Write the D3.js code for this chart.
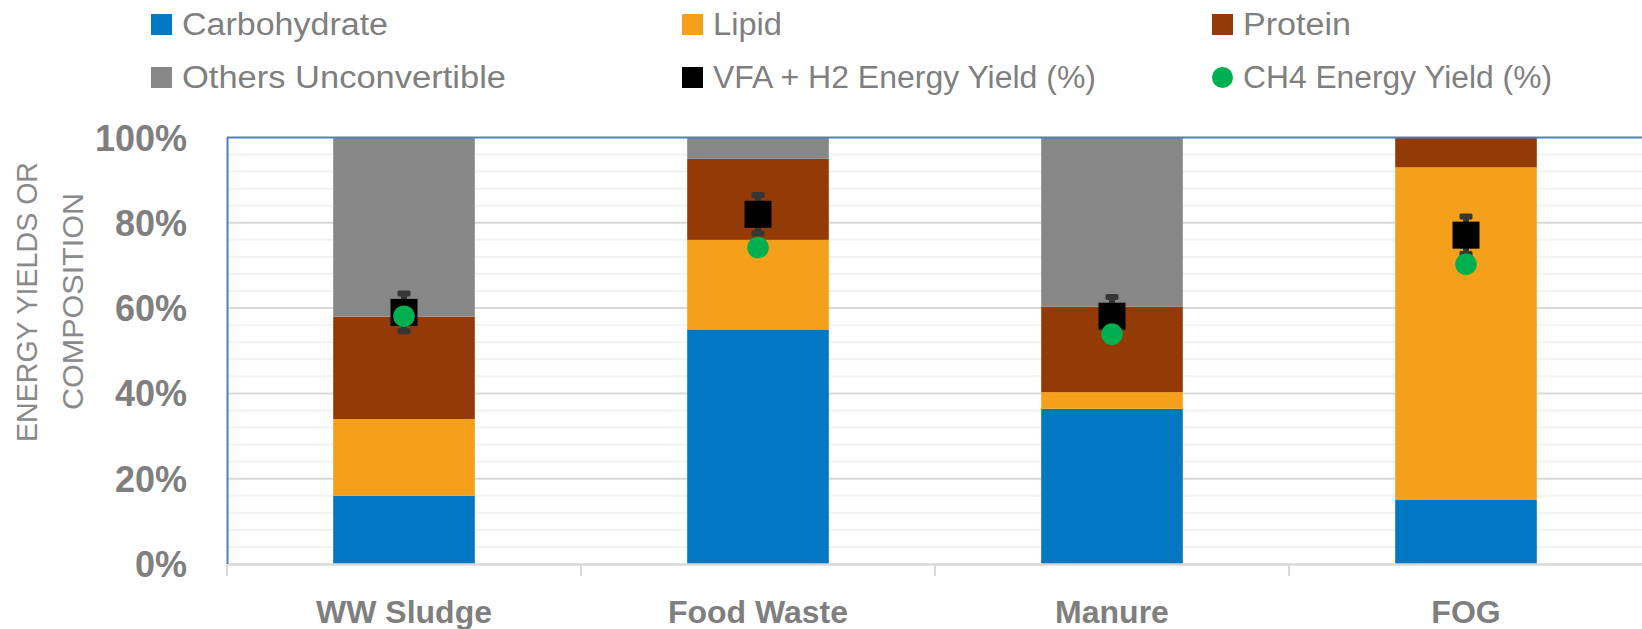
<!DOCTYPE html>
<html>
<head>
<meta charset="utf-8">
<script src="https://cdn.jsdelivr.net/npm/d3@7"></script>
<style>
  html, body { margin: 0; padding: 0; background: #ffffff; }
  svg { display: block; }
</style>
</head>
<body>
<svg id="chart" width="1642" height="629"></svg>
<script>
// ---------------- DATA ----------------
const categories = ["WW Sludge", "Food Waste", "Manure", "FOG"];
const carbohydrate = [16, 55, 36.4, 15];
const lipid = [18, 21, 3.9, 78];
const protein = [24, 19, 20, 7];
const othersUnconvertible = [42, 5, 39.7, 0];
const vfaH2Yield = [59, 82, 58.1, 77.1];
const vfaH2Error = [4.4, 4.5, 4.5, 4.4];
const ch4Yield = [58.1, 74.2, 53.9, 70.3];
const yTickValues = [0, 20, 40, 60, 80, 100];
const seriesNames = ["Carbohydrate", "Lipid", "Protein", "Others Unconvertible"];
const markerNames = ["VFA + H2 Energy Yield (%)", "CH4 Energy Yield (%)"];
const yTitleLines = ["ENERGY YIELDS OR", "COMPOSITION"];

// ---------------- STYLE ----------------
const seriesColors = ["#0178C1", "#F5A01A", "#933A06", "#878787"];
const squareColor = "#000000";
const circleColor = "#00B050";
const errColor = "#363636";
const textGrey = "#7F7F7F";
const fontFamily = "'Liberation Sans', Arial, sans-serif";

const plot = { left: 227, right: 1643, top: 137.5, bottom: 564 };

const svg = d3.select("#chart");

// table for stacking
const table = categories.map((c, i) => ({
  category: c,
  "Carbohydrate": carbohydrate[i],
  "Lipid": lipid[i],
  "Protein": protein[i],
  "Others Unconvertible": othersUnconvertible[i]
}));

const y = d3.scaleLinear().domain([0, 100]).range([plot.bottom, plot.top]);
const xSlot = d3.scaleBand().domain(categories).range([plot.left, plot.right]).padding(0);
const x = d3.scaleBand().domain(categories).range([plot.left, plot.right])
  .paddingInner(0.6).paddingOuter(0.3);

// ---------------- GRID ----------------
const minorTicks = d3.range(0, 100.001, 4);
svg.append("g").selectAll("line").data(minorTicks.filter(t => t % 20 !== 0))
  .join("line")
  .attr("x1", plot.left).attr("x2", plot.right)
  .attr("y1", d => y(d)).attr("y2", d => y(d))
  .attr("stroke", "#F2F2F2").attr("stroke-width", 2);

svg.append("g").selectAll("line").data(yTickValues.filter(t => t > 0 && t < 100))
  .join("line")
  .attr("x1", plot.left).attr("x2", plot.right)
  .attr("y1", d => y(d)).attr("y2", d => y(d))
  .attr("stroke", "#D9D9D9").attr("stroke-width", 2);

// ---------------- BARS ----------------
const stacked = d3.stack().keys(seriesNames)(table);
svg.append("g").selectAll("g").data(stacked).join("g")
  .attr("fill", (d, i) => seriesColors[i])
  .selectAll("rect").data(d => d).join("rect")
  .attr("x", d => x(d.data.category))
  .attr("width", x.bandwidth())
  .attr("y", d => y(d[1]))
  .attr("height", d => Math.max(0, y(d[0]) - y(d[1])));

// ---------------- AXES / BORDERS ----------------
// x-axis line
svg.append("line")
  .attr("x1", plot.left).attr("x2", plot.right)
  .attr("y1", plot.bottom + 0.5).attr("y2", plot.bottom + 0.5)
  .attr("stroke", "#D9D9D9").attr("stroke-width", 2.5);
// category boundary ticks
const boundaries = categories.map(c => xSlot(c)).concat([plot.right]);
svg.append("g").selectAll("line").data(boundaries).join("line")
  .attr("x1", d => d).attr("x2", d => d)
  .attr("y1", plot.bottom + 1).attr("y2", plot.bottom + 12)
  .attr("stroke", "#D9D9D9").attr("stroke-width", 2);
// plot border (top & left in blue)
svg.append("line")
  .attr("x1", plot.left).attr("x2", plot.right)
  .attr("y1", plot.top).attr("y2", plot.top)
  .attr("stroke", "#4F7EC0").attr("stroke-width", 2);
svg.append("line")
  .attr("x1", plot.left + 0.5).attr("x2", plot.left + 0.5)
  .attr("y1", plot.top).attr("y2", plot.bottom)
  .attr("stroke", "#4F7EC0").attr("stroke-width", 2);

// y tick labels
svg.append("g").selectAll("text").data(yTickValues).join("text")
  .attr("x", 187).attr("y", d => y(d) + 13)
  .attr("text-anchor", "end")
  .attr("font-family", fontFamily).attr("font-weight", "bold")
  .attr("font-size", 36).attr("fill", textGrey)
  .text(d => d + "%");

// x labels
svg.append("g").selectAll("text").data(categories).join("text")
  .attr("x", d => xSlot(d) + xSlot.bandwidth() / 2).attr("y", 623)
  .attr("text-anchor", "middle")
  .attr("font-family", fontFamily).attr("font-weight", "bold")
  .attr("font-size", 32).attr("fill", textGrey)
  .text(d => d);

// y axis title
const titlePos = [{ bx: 37, cy: 302, w: 280 }, { bx: 83, cy: 301.5, w: 217 }];
yTitleLines.forEach((t, i) => {
  svg.append("text")
    .attr("transform", `translate(${titlePos[i].bx},${titlePos[i].cy}) rotate(-90)`)
    .attr("text-anchor", "middle")
    .attr("font-family", fontFamily).attr("font-size", 30)
    .attr("fill", "#8A8A8A")
    .attr("textLength", titlePos[i].w).attr("lengthAdjust", "spacingAndGlyphs")
    .text(t);
});

// ---------------- MARKERS ----------------
const cx = i => x(categories[i]) + x.bandwidth() / 2;
const eb = svg.append("g");
categories.forEach((c, i) => {
  const hi = y(vfaH2Yield[i] + vfaH2Error[i]);
  const lo = y(vfaH2Yield[i] - vfaH2Error[i]);
  eb.append("line")
    .attr("x1", cx(i)).attr("x2", cx(i)).attr("y1", hi).attr("y2", lo)
    .attr("stroke", errColor).attr("stroke-width", 6);
  [hi, lo].forEach(yy => {
    eb.append("rect")
      .attr("x", cx(i) - 6.5).attr("y", yy - 3)
      .attr("width", 13).attr("height", 6).attr("rx", 1.5)
      .attr("fill", errColor);
  });
});
svg.append("g").selectAll("rect").data(vfaH2Yield).join("rect")
  .attr("x", (d, i) => cx(i) - 13.5).attr("y", d => y(d) - 13.5)
  .attr("width", 27).attr("height", 27)
  .attr("fill", squareColor);
svg.append("g").selectAll("circle").data(ch4Yield).join("circle")
  .attr("cx", (d, i) => cx(i)).attr("cy", d => y(d))
  .attr("r", 10.8).attr("fill", circleColor);

// ---------------- LEGEND ----------------
const legendItems = [
  { name: seriesNames[0], type: "sq", color: seriesColors[0], col: 0, row: 0, w: 206 },
  { name: seriesNames[1], type: "sq", color: seriesColors[1], col: 1, row: 0, w: 69 },
  { name: seriesNames[2], type: "sq", color: seriesColors[2], col: 2, row: 0, w: 108 },
  { name: seriesNames[3], type: "sq", color: seriesColors[3], col: 0, row: 1, w: 324 },
  { name: markerNames[0], type: "sq", color: squareColor, col: 1, row: 1, w: 383 },
  { name: markerNames[1], type: "ci", color: circleColor, col: 2, row: 1, w: 309 }
];
const colX = [151, 682, 1212];
const rowTop = [14, 67];
const rowBase = [35, 88];
const lg = svg.append("g");
legendItems.forEach(it => {
  const sx = colX[it.col], sy = rowTop[it.row];
  if (it.type === "sq") {
    lg.append("rect").attr("x", sx).attr("y", sy).attr("width", 21).attr("height", 21)
      .attr("fill", it.color);
  } else {
    lg.append("circle").attr("cx", sx + 10.5).attr("cy", sy + 10.5).attr("r", 10.5)
      .attr("fill", it.color);
  }
  lg.append("text")
    .attr("x", sx + 31).attr("y", rowBase[it.row])
    .attr("font-family", fontFamily).attr("font-size", 31)
    .attr("fill", textGrey)
    .attr("textLength", it.w).attr("lengthAdjust", "spacingAndGlyphs")
    .text(it.name);
});
</script>
</body>
</html>
